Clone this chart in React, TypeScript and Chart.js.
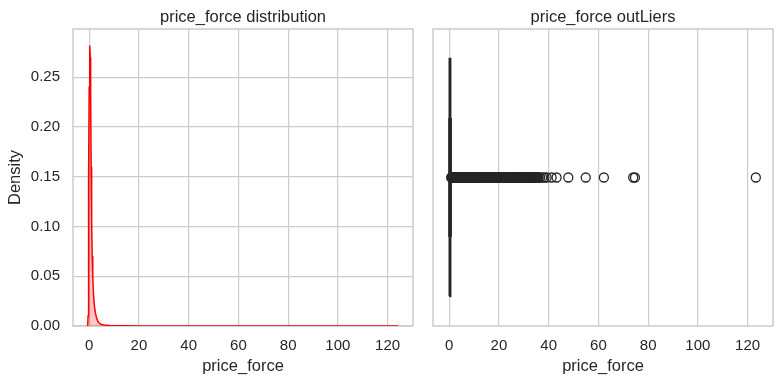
import React, { useEffect, useRef } from "react";
import { Chart, registerables } from "chart.js";

Chart.register(...registerables);

// ---- data ----
const kdeX = [-0.6, -0.45, -0.3, -0.15, 0.0, 0.15, 0.3, 0.45, 0.6, 0.8, 1.0, 1.2, 1.45, 1.7, 2.1, 2.6, 3.0, 3.5, 4.2, 5.0, 6.0, 8.0, 10, 15, 20, 30, 40, 60, 80, 100, 123, 124.2];
const kdeY = [0, 0.01, 0.05, 0.15, 0.24, 0.275, 0.282, 0.27, 0.23, 0.16, 0.105, 0.07, 0.05, 0.033, 0.02, 0.012, 0.008, 0.0045, 0.0025, 0.0014, 0.0009, 0.0005, 0.0003, 0.00015, 0.0001, 0.00006, 0.00004, 0.00002, 0.00001, 0.000005, 0.000003, 0];

const xTicks = [0, 20, 40, 60, 80, 100, 120];
const yTicks = [0, 0.05, 0.1, 0.15, 0.2, 0.25];

// boxplot summary for price_force
const boxQ1 = 0.1;
const boxMedian = 0.3;
const boxQ3 = 0.55;
const whiskerLow = 0;
const whiskerHigh = 0.75;

const fliers = [
  0.8, 1, 1.25, 1.5, 1.75, 2, 2.25, 2.5, 2.75, 3, 3.25, 3.5, 3.75, 4, 4.25, 4.5, 4.75,
  5, 5.25, 5.5, 5.75, 6, 6.25, 6.5, 6.75, 7, 7.25, 7.5, 7.75, 8, 8.25, 8.5, 8.75,
  9, 9.25, 9.5, 9.75, 10, 10.25, 10.5, 10.75, 11, 11.25, 11.5, 11.75, 12, 12.25, 12.5, 12.75,
  13, 13.25, 13.5, 13.75, 14, 14.25, 14.5, 14.75, 15, 15.25, 15.5, 15.75, 16, 16.25, 16.5, 16.75,
  17, 17.25, 17.5, 17.75, 18, 18.25, 18.5, 18.75, 19, 19.25, 19.5, 19.75, 20, 20.25, 20.5, 20.75,
  21, 21.25, 21.5, 21.75, 22, 22.25, 22.5, 22.75, 23, 23.25, 23.5, 23.75, 24, 24.25, 24.5, 24.75,
  25, 25.25, 25.5, 25.75, 26, 26.25, 26.5, 26.75, 27, 27.25, 27.5, 27.75, 28, 28.25, 28.5, 28.75,
  29, 29.25, 29.5, 29.75, 30, 30.25, 30.5, 30.75, 31, 31.25, 31.5, 31.75, 32, 32.25, 32.5, 32.75,
  33, 33.25, 33.5, 33.75, 34, 34.25, 34.5, 34.75, 35, 35.25, 35.5, 35.75, 36,
  36.6, 37.4, 38.3, 39.2, 41.2, 43.2, 47.9, 54.9, 62.2, 74.0, 74.7, 123.3,
];

const X_MIN = -6.5;
const X_MAX = 130.2;
const Y_MAX = 0.2985;

const TXT = "#262626";
const GRID = "#cccccc";
const FONT = "'Liberation Sans', Arial, sans-serif";

const framePlugin = {
  id: "frame",
  beforeDatasetsDraw(chart: any) {
    const { ctx, chartArea } = chart;
    const { left, top, right, bottom } = chartArea;
    ctx.save();
    ctx.strokeStyle = GRID;
    ctx.lineWidth = 1.5;
    ctx.strokeRect(left, top, right - left, bottom - top);
    ctx.restore();
  },
};

function xScale() {
  return {
    type: "linear",
    min: X_MIN,
    max: X_MAX,
    afterBuildTicks: (s: any) => {
      s.ticks = xTicks.map((v) => ({ value: v }));
    },
    afterFit: (s: any) => {
      s.height = 58;
    },
    grid: { color: GRID, lineWidth: 1.2, drawTicks: false },
    border: { display: false },
    ticks: {
      color: TXT,
      padding: 11,
      font: { family: FONT, size: 15 },
      callback: (v: any) => String(v),
      maxRotation: 0,
    },
    title: {
      display: true,
      text: "price_force",
      color: TXT,
      font: { family: FONT, size: 16.5 },
      padding: { top: 0, bottom: 8 },
    },
  };
}

function titleOpts(text: string) {
  return {
    display: true,
    text,
    color: TXT,
    fullSize: false,
    font: { family: FONT, size: 16.5, weight: "normal" as const },
    padding: { top: 8, bottom: 1.2 },
  };
}

function KdeChart() {
  const ref = useRef<HTMLCanvasElement>(null);
  useEffect(() => {
    const data = kdeX.map((x, i) => ({ x, y: kdeY[i] }));
    const chart = new Chart(ref.current as HTMLCanvasElement, {
      type: "line",
      data: {
        datasets: [
          {
            data,
            borderColor: "#ff0000",
            backgroundColor: "rgba(255,0,0,0.22)",
            borderWidth: 1.5,
            pointRadius: 0,
            fill: "origin",
            tension: 0,
          },
        ],
      },
      options: {
        responsive: false,
        animation: false,
        devicePixelRatio: 1,
        layout: { padding: { left: 0, right: 10, top: 0, bottom: 0 } },
        plugins: {
          legend: { display: false },
          tooltip: { enabled: false },
          title: titleOpts("price_force distribution"),
        },
        scales: {
          x: xScale() as any,
          y: {
            type: "linear",
            min: 0,
            max: Y_MAX,
            afterBuildTicks: (s: any) => {
              s.ticks = yTicks.map((v) => ({ value: v }));
            },
            afterFit: (s: any) => {
              s.width = 73;
            },
            grid: { color: GRID, lineWidth: 1.2, drawTicks: false },
            border: { display: false },
            ticks: {
              color: TXT,
              padding: 13,
              font: { family: FONT, size: 15 },
              callback: (v: any) => Number(v).toFixed(2),
            },
            title: {
              display: true,
              text: "Density",
              color: TXT,
              font: { family: FONT, size: 16.5 },
              padding: { top: 6, bottom: 0 },
            },
          },
        },
      },
      plugins: [framePlugin],
    });
    return () => chart.destroy();
  }, []);
  return <canvas ref={ref} width={423} height={384} style={{ width: 423, height: 384, display: "block" }} />;
}

function BoxChart() {
  const ref = useRef<HTMLCanvasElement>(null);
  useEffect(() => {
    const dark = "#262626";
    const lineDs = (pts: { x: number; y: number }[], w = 1.8) => ({
      type: "line" as const,
      data: pts,
      borderColor: dark,
      backgroundColor: dark,
      borderWidth: w,
      pointRadius: 0,
      fill: false,
      tension: 0,
    });
    const chart = new Chart(ref.current as HTMLCanvasElement, {
      type: "scatter",
      data: {
        datasets: [
          lineDs([
            { x: boxQ1, y: -0.4 },
            { x: boxQ3, y: -0.4 },
            { x: boxQ3, y: 0.4 },
            { x: boxQ1, y: 0.4 },
            { x: boxQ1, y: -0.4 },
          ]),
          lineDs([
            { x: boxMedian, y: -0.4 },
            { x: boxMedian, y: 0.4 },
          ]),
          lineDs([
            { x: whiskerLow, y: 0 },
            { x: boxQ1, y: 0 },
          ]),
          lineDs([
            { x: boxQ3, y: 0 },
            { x: whiskerHigh, y: 0 },
          ]),
          lineDs([
            { x: whiskerLow, y: -0.2 },
            { x: whiskerLow, y: 0.2 },
          ]),
          lineDs([
            { x: whiskerHigh, y: -0.2 },
            { x: whiskerHigh, y: 0.2 },
          ]),
          {
            type: "scatter" as const,
            data: fliers.map((x) => ({ x, y: 0 })),
            pointRadius: 4.5,
            pointStyle: "circle",
            borderColor: dark,
            backgroundColor: "rgba(0,0,0,0)",
            borderWidth: 1.3,
            showLine: false,
          },
        ] as any,
      },
      options: {
        responsive: false,
        animation: false,
        devicePixelRatio: 1,
        layout: { padding: { left: 10, right: 8, top: 0, bottom: 0 } },
        plugins: {
          legend: { display: false },
          tooltip: { enabled: false },
          title: titleOpts("price_force outLiers"),
        },
        scales: {
          x: xScale() as any,
          y: {
            type: "linear",
            min: -0.5,
            max: 0.5,
            display: false,
          },
        },
      },
      plugins: [framePlugin],
    });
    return () => chart.destroy();
  }, []);
  return <canvas ref={ref} width={358} height={384} style={{ width: 358, height: 384, display: "block" }} />;
}

export default function App() {
  return (
    <div style={{ position: "absolute", left: 0, top: 0, width: 781, height: 384, background: "#ffffff" }}>
      <div style={{ position: "absolute", left: 0, top: 0 }}>
        <KdeChart />
      </div>
      <div style={{ position: "absolute", left: 423, top: 0 }}>
        <BoxChart />
      </div>
    </div>
  );
}
